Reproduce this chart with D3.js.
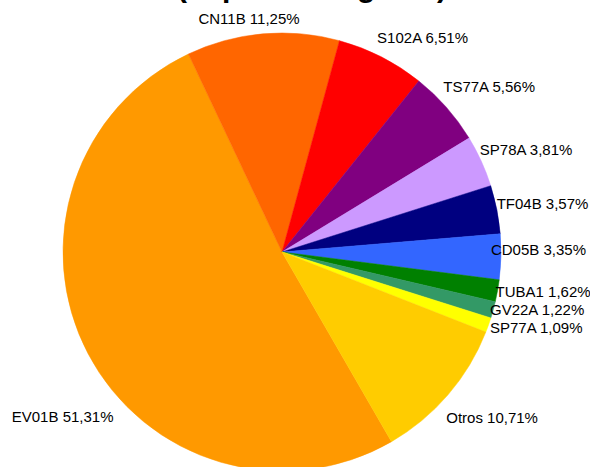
<!DOCTYPE html>
<html>
<head>
<meta charset="utf-8">
<script src="https://cdn.jsdelivr.net/npm/d3@7"></script>
<style>
  html, body { margin: 0; padding: 0; background: #ffffff; }
  svg { display: block; }
  text { font-family: "Liberation Sans", Arial, sans-serif; fill: #000; }
</style>
</head>
<body>
<svg id="chart" width="590" height="467"></svg>
<script>
// Share of each group, in drawing order (clockwise)
const categories = ["EV01B", "CN11B", "S102A", "TS77A", "SP78A", "TF04B",
                    "CD05B", "TUBA1", "GV22A", "SP77A", "Otros"];
const shares = [51.31, 11.25, 6.51, 5.56, 3.81, 3.57, 3.35, 1.62, 1.22, 1.09, 10.71];
const sliceColors = ["#FF9900", "#FF6600", "#FF0000", "#800080", "#CC99FF", "#000080",
                     "#3366FF", "#008000", "#339966", "#FFFF00", "#FFCC00"];
const titleText = "(Importe del gasto)";

const svg = d3.select("#chart");
const cx = 282, cy = 252, radius = 219;
const deg = Math.PI / 180;

// Title (only its lower edge fits inside the frame)
svg.append("text")
  .attr("x", 312).attr("y", -3)
  .attr("text-anchor", "middle")
  .style("font-weight", "bold")
  .style("font-size", "30px")
  .text(titleText);

const pie = d3.pie()
  .sort(null)
  .value(d => d)
  .startAngle(150 * deg)
  .endAngle(510 * deg);

const arcs = pie(shares);
const arc = d3.arc().innerRadius(0).outerRadius(radius);

const g = svg.append("g").attr("transform", `translate(${cx},${cy})`);

g.selectAll("path.slice")
  .data(arcs)
  .join("path")
  .attr("class", "slice")
  .attr("d", arc)
  .attr("fill", (d, i) => sliceColors[i])
  .attr("stroke", (d, i) => sliceColors[i])
  .attr("stroke-width", 0.5);

// Labels sit just outside the rim; a few are shifted to avoid crowding
const fmt = v => v.toFixed(2).replace(".", ",") + "%";
const labelR = radius + 15;
const shift = {
  EV01B: [33, 53], CN11B: [-8, 7], S102A: [14, 0], TS77A: [-3, -6],
  SP78A: [-11, -2], TF04B: [-14, -1], CD05B: [-25, -7], TUBA1: [-16, -3],
  GV22A: [-16, -6], SP77A: [-10, -4], Otros: [-2, 9]
};

const labels = svg.append("g").attr("transform", `translate(${cx},${cy})`);
arcs.forEach((d, i) => {
  const a = (d.startAngle + d.endAngle) / 2;
  const s = Math.sin(a), c = Math.cos(a);
  const t = labels.append("text")
    .style("font-size", "15px")
    .attr("text-anchor", "middle")
    .text(categories[i] + " " + fmt(shares[i]));
  const w = t.node().getComputedTextLength();
  const h = 13;
  const [sx, sy] = shift[categories[i]];
  const x = labelR * s + (w / 2) * s + sx;
  const y = -labelR * c - (h / 2) * c + sy;
  t.attr("x", x).attr("y", y + 5);
});
</script>
</body>
</html>
